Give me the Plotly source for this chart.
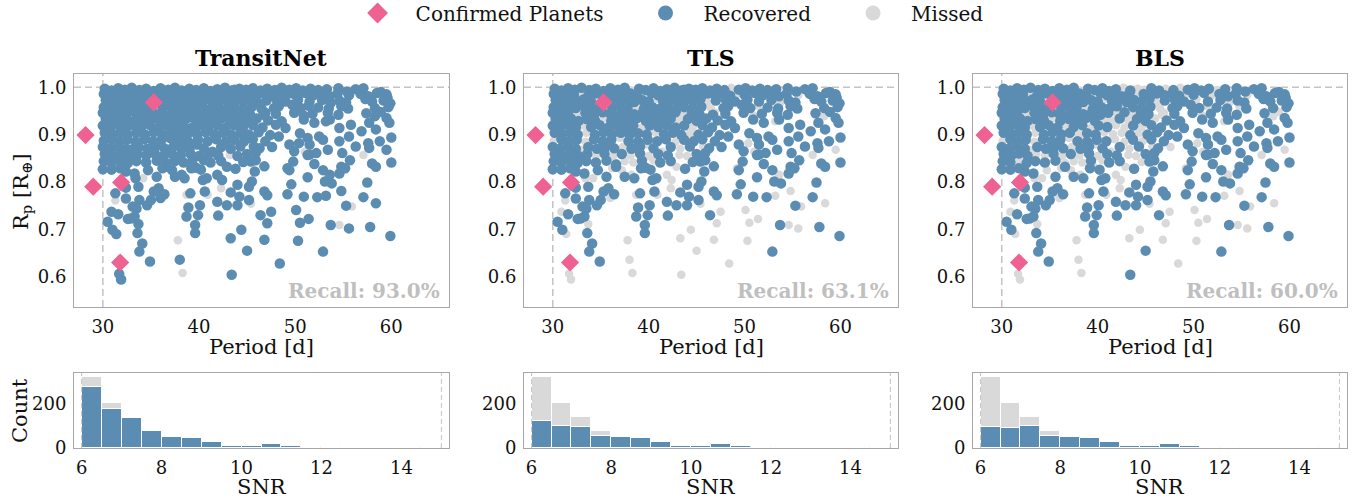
import plotly.graph_objects as go

# ---------------- data ----------------
methods = ["TransitNet", "TLS", "BLS"]
recall_pct = [93.0, 63.1, 60.0]

# planets recovered by all three methods
all_period = [30.2, 30.9, 31.6, 32.3, 33.0, 33.8, 34.5, 35.3, 36.0, 36.8, 37.5, 39.0, 39.7, 40.5, 41.2, 41.9, 43.4, 45.6, 46.4, 47.9, 49.4, 50.1, 50.8, 51.6, 53.3, 54.5, 55.4, 56.3, 57.1, 58.5, 59.5,
              30.1, 30.8, 31.5, 32.2, 33.7, 34.4, 35.1, 35.9, 36.6, 37.4, 38.1, 38.8, 40.3, 41.0, 41.8, 42.5, 43.3, 44.8, 45.5, 46.2, 47.0, 47.8, 48.5, 50.0, 51.1, 52.7, 53.6, 54.4, 56.8, 57.6, 58.9, 59.6,
              30.3, 31.0, 31.8, 32.5, 33.2, 34.0, 35.5, 36.3, 37.0, 37.8, 38.5, 39.3, 40.0, 41.5, 42.3, 43.0, 43.8, 44.6, 45.4, 47.0, 48.0, 49.0, 51.5, 52.8, 54.6, 55.3, 57.3, 58.0, 59.2, 59.9,
              30.1, 30.9, 31.7, 32.4, 33.3, 34.1, 34.9, 36.2, 37.0, 37.8, 39.5, 40.4, 41.2, 42.0, 43.7, 44.6, 45.5, 47.8, 48.3, 49.7, 50.6, 52.4, 53.5, 55.5, 58.3, 59.7,
              30.0, 30.8, 31.6, 33.4, 34.3, 35.2, 36.0, 36.9, 37.7, 38.5, 39.4, 40.3, 41.1, 42.8, 44.5, 45.3, 48.0, 49.9, 51.8, 53.4, 54.5, 57.4,
              30.3, 31.1, 31.9, 32.7, 33.5, 34.4, 36.1, 37.0, 37.9, 38.8, 39.7, 42.3, 44.1, 45.0, 47.2, 48.6, 50.9, 52.0, 53.6, 55.8, 57.7, 59.5, 59.8,
              30.0, 30.8, 31.6, 32.4, 34.0, 34.9, 35.8, 37.5, 38.4, 40.1, 41.0, 43.7, 45.6, 46.6, 48.0, 49.0, 54.6, 58.4,
              30.2, 31.0, 31.8, 32.6, 34.4, 35.3, 36.2, 37.1, 38.9, 39.8, 43.4, 45.2, 46.2, 47.4, 50.5, 52.5, 55.6, 56.9, 60.0,
              30.9, 31.7, 32.5, 34.3, 35.2, 36.1, 37.9, 38.9, 39.9, 40.9, 43.7, 45.6, 46.9, 48.3, 51.3, 52.9, 54.6, 57.6, 58.8,
              30.0, 30.8, 31.6, 32.4, 33.7, 34.6, 35.5, 36.4, 38.2, 39.1, 40.5, 42.3, 44.3, 46.3, 49.4, 51.5, 53.4, 56.3, 57.7,
              30.2, 31.0, 31.8, 32.7, 35.4, 37.2, 39.1, 41.0, 42.0, 45.0, 45.9, 49.9, 51.5, 52.2, 54.9,
              30.1, 30.9, 32.6, 33.5, 34.5, 35.6, 39.3, 41.2, 42.3, 45.4, 46.8, 52.0, 55.7,
              30.0, 30.9, 31.8, 32.4, 33.3, 36.6, 37.5, 38.5, 39.2, 40.2, 43.8,
              30.5, 31.0, 31.3, 31.6, 32.4, 32.4, 32.6, 32.9, 33.3, 33.1, 33.5, 33.6, 33.8, 33.7, 34.1, 33.8, 34.9, 34.6, 35.0, 35.3, 35.8, 36.4, 35.6,
              39.1, 38.9, 38.7, 39.9, 40.1, 39.6, 39.6, 40.6, 40.4, 40.8, 41.9, 42.0, 42.9, 43.3, 44.0, 44.2, 44.0, 45.2, 45.5, 45.2, 45.8, 46.4, 46.8, 47.1,
              49.2, 49.6, 49.4, 50.9, 51.3, 52.3, 52.9, 53.1, 52.9, 53.7, 53.8, 54.6, 54.8, 55.2, 55.3, 57.1, 57.5, 57.8, 59.9, 58.0, 58.4, 60.0, 45.9, 49.8, 51.3]
all_radius = [0.997, 0.993, 0.998, 0.995, 0.999, 0.994, 0.997, 0.992, 0.998, 0.995, 0.999, 0.997, 0.994, 0.998, 0.992, 0.996, 0.993, 0.998, 0.993, 0.994, 0.995, 0.998, 0.993, 0.997, 0.996, 0.998, 0.991, 0.996, 0.998, 0.988, 0.985,
              0.986, 0.983, 0.987, 0.984, 0.982, 0.987, 0.984, 0.981, 0.986, 0.983, 0.987, 0.982, 0.988, 0.983, 0.986, 0.981, 0.987, 0.986, 0.982, 0.987, 0.983, 0.986, 0.982, 0.984, 0.988, 0.986, 0.981, 0.987, 0.986, 0.981, 0.990, 0.978,
              0.973, 0.970, 0.975, 0.971, 0.974, 0.969, 0.970, 0.975, 0.971, 0.974, 0.969, 0.973, 0.970, 0.971, 0.974, 0.969, 0.973, 0.970, 0.975, 0.972, 0.975, 0.970, 0.970, 0.973, 0.972, 0.968, 0.975, 0.970, 0.972, 0.966,
              0.958, 0.955, 0.960, 0.956, 0.959, 0.954, 0.958, 0.956, 0.960, 0.955, 0.954, 0.958, 0.955, 0.960, 0.958, 0.954, 0.959, 0.956, 0.960, 0.963, 0.956, 0.957, 0.955, 0.955, 0.956, 0.958,
              0.946, 0.943, 0.947, 0.946, 0.942, 0.947, 0.944, 0.941, 0.946, 0.943, 0.947, 0.942, 0.946, 0.947, 0.946, 0.943, 0.944, 0.946, 0.944, 0.946, 0.942, 0.945,
              0.933, 0.930, 0.934, 0.929, 0.933, 0.930, 0.929, 0.933, 0.930, 0.935, 0.929, 0.934, 0.933, 0.929, 0.930, 0.928, 0.932, 0.925, 0.932, 0.921, 0.925, 0.935, 0.925,
              0.919, 0.916, 0.920, 0.915, 0.916, 0.920, 0.915, 0.916, 0.920, 0.919, 0.916, 0.919, 0.920, 0.915, 0.921, 0.914, 0.914, 0.911,
              0.904, 0.901, 0.905, 0.900, 0.900, 0.905, 0.901, 0.904, 0.903, 0.900, 0.899, 0.900, 0.905, 0.899, 0.903, 0.896, 0.896, 0.907, 0.894,
              0.890, 0.886, 0.889, 0.890, 0.886, 0.889, 0.886, 0.885, 0.889, 0.886, 0.889, 0.890, 0.886, 0.896, 0.893, 0.889, 0.886, 0.882, 0.886,
              0.874, 0.871, 0.875, 0.870, 0.874, 0.870, 0.875, 0.871, 0.870, 0.875, 0.871, 0.874, 0.875, 0.871, 0.879, 0.879, 0.868, 0.875, 0.872,
              0.859, 0.856, 0.860, 0.855, 0.860, 0.859, 0.860, 0.859, 0.856, 0.859, 0.861, 0.865, 0.858, 0.861, 0.861,
              0.844, 0.841, 0.840, 0.844, 0.841, 0.845, 0.845, 0.841, 0.844, 0.843, 0.833, 0.838, 0.846,
              0.827, 0.826, 0.829, 0.822, 0.818, 0.832, 0.811, 0.808, 0.829, 0.826, 0.828,
              0.716, 0.699, 0.776, 0.732, 0.765, 0.788, 0.722, 0.723, 0.727, 0.748, 0.744, 0.692, 0.762, 0.790, 0.670, 0.653, 0.632, 0.751, 0.762, 0.780, 0.787, 0.774, 0.811,
              0.776, 0.746, 0.727, 0.730, 0.751, 0.709, 0.692, 0.780, 0.804, 0.808, 0.758, 0.729, 0.751, 0.778, 0.794, 0.769, 0.751, 0.762, 0.801, 0.790, 0.822, 0.730, 0.780, 0.772,
              0.774, 0.795, 0.825, 0.769, 0.810, 0.768, 0.653, 0.801, 0.825, 0.709, 0.797, 0.818, 0.832, 0.829, 0.750, 0.768, 0.799, 0.705, 0.686, 0.839, 0.832, 0.841, 0.846, 0.843, 0.857]

# recovered by TransitNet and TLS, missed by BLS
tn_tls_period = [42.7, 44.2, 44.9, 52.4, 44.0, 51.9, 50.3, 42.9, 54.8, 42.0, 58.9, 41.4, 40.6, 46.0, 36.7, 42.8, 41.9, 38.0, 41.6, 42.5,
                 41.8, 44.7, 47.6, 38.3, 46.7, 31.8, 33.6, 34.7, 44.6, 36.6, 39.7, 47.1, 43.7]
tn_tls_radius = [0.999, 0.997, 0.995, 0.994, 0.984, 0.983, 0.974, 0.955, 0.960, 0.943, 0.948, 0.930, 0.933, 0.934, 0.919, 0.915, 0.920, 0.899, 0.901, 0.904,
                 0.890, 0.886, 0.874, 0.907, 0.942, 0.845, 0.859, 0.825, 0.842, 0.837, 0.830, 0.997, 0.995]

# recovered by TransitNet and BLS, missed by TLS
tn_bls_period = [43.4, 45.0]
tn_bls_radius = [0.604, 0.655]

# recovered by TransitNet only
tn_only_period = [38.2, 48.6, 33.0, 39.6, 49.3, 55.6, 34.7, 40.8, 46.1, 53.7, 38.7, 46.5, 51.4, 32.5, 43.6, 46.9, 50.9, 35.3, 43.2, 53.2, 58.3,
                  33.2, 39.3, 44.6, 33.5, 40.7, 44.3, 30.1, 33.4, 37.0, 38.4, 50.4, 32.9, 37.3, 39.8, 41.4, 45.7, 59.5, 34.5, 38.1,
                  36.6, 40.5, 42.9, 36.2, 37.2, 38.2, 39.5, 41.9, 42.4, 49.2, 53.6, 33.4,
                  42.8, 43.3, 36.3, 40.0, 44.0, 37.5, 38.4,
                  30.9, 31.4, 31.7, 31.9, 33.7, 36.0, 38.0, 43.3, 44.4, 46.8, 47.1, 47.5, 48.4, 50.1, 50.5, 50.3, 51.4, 53.2, 54.8, 55.6, 58.4]
tn_only_radius = [0.993, 0.999, 0.986, 0.985, 0.987, 0.983, 0.973, 0.975, 0.968, 0.967, 0.959, 0.955, 0.961, 0.944, 0.942, 0.946, 0.940, 0.934, 0.930, 0.928, 0.939,
                  0.919, 0.915, 0.916, 0.904, 0.905, 0.903, 0.887, 0.885, 0.893, 0.890, 0.882, 0.868, 0.874, 0.879, 0.864, 0.875, 0.868, 0.856, 0.856,
                  0.840, 0.846, 0.832, 0.829, 0.825, 0.815, 0.832, 0.815, 0.804, 0.829, 0.815, 0.808,
                  0.885, 0.870, 0.855, 0.855, 0.855, 0.844, 0.841,
                  0.737, 0.690, 0.606, 0.594, 0.711, 0.766, 0.636, 0.681, 0.699, 0.678, 0.713, 0.737, 0.628, 0.741, 0.714, 0.676, 0.722, 0.771, 0.781, 0.702, 0.755]

# missed by all three methods
none_period = [31.3, 34.2, 37.8, 38.3, 38.7, 40.9, 42.3, 45.4, 54.6, 55.9, 57.1, 51.0, 43.2]
none_radius = [0.761, 0.808, 0.677, 0.608, 0.773, 0.773, 0.787, 0.754, 0.709, 0.748, 0.857, 0.864, 0.857]

confirmed_period = [28.2, 29.0, 31.9, 31.8, 35.3]
confirmed_radius = [0.899, 0.790, 0.799, 0.630, 0.968]

# SNR histograms (bin edges, all injected, recovered per method)
snr_edges = [6.0, 6.5, 7.0, 7.5, 8.0, 8.5, 9.0, 9.5, 10.0, 10.5, 11.0, 11.5, 12.0, 12.5, 13.0, 13.5, 14.0, 14.5, 15.0]
snr_total = [323, 202, 141, 76, 49, 46, 27, 9, 11, 19, 10, 5, 3, 1, 1, 1, 1, 5]
snr_recovered = {
    "TransitNet": [277, 175, 137, 75, 49, 46, 27, 9, 11, 19, 10, 5, 3, 1, 1, 1, 1, 5],
    "TLS":        [122, 100, 95, 55, 48, 46, 27, 9, 11, 19, 10, 5, 3, 1, 1, 1, 1, 5],
    "BLS":        [95, 90, 100, 55, 48, 46, 27, 9, 11, 19, 10, 5, 3, 1, 1, 1, 1, 5],
}

# ---------------- styling ----------------
BLUE = "#5b8db3"
GRAY = "#d9d9d9"
PINK = "#ef6190"
FONT = "DejaVu Serif"
W, H = 1365, 501
panel_px = [(74, 449), (524, 898), (973, 1347)]
scatter_py = (74, 307)
hist_py = (373, 448)

groups = {
    "A": (all_period, all_radius),
    "C": (tn_tls_period, tn_tls_radius),
    "B": (tn_bls_period, tn_bls_radius),
    "T": (tn_only_period, tn_only_radius),
    "N": (none_period, none_radius),
}
recovered_by = {
    "TransitNet": ["A", "C", "B", "T"],
    "TLS": ["A", "C"],
    "BLS": ["A", "B"],
}


def collect(keys):
    px, ry = [], []
    for k in keys:
        px += groups[k][0]
        ry += groups[k][1]
    return px, ry


fig = go.Figure()
centers = [(a + b) / 2 for a, b in zip(snr_edges[:-1], snr_edges[1:])]

for i, m in enumerate(methods):
    sx = "x" if i == 0 else f"x{i + 1}"
    sy = "y" if i == 0 else f"y{i + 1}"
    hx = f"x{i + 4}"
    hy = f"y{i + 4}"
    rec_keys = recovered_by[m]
    miss_keys = [k for k in groups if k not in rec_keys]
    mp, mr = collect(miss_keys)
    rp, rr = collect(rec_keys)
    fig.add_trace(go.Scatter(x=mp, y=mr, mode="markers", xaxis=sx, yaxis=sy, showlegend=False,
                             marker=dict(color=GRAY, size=8.5, line=dict(width=0))))
    fig.add_trace(go.Scatter(x=rp, y=rr, mode="markers", xaxis=sx, yaxis=sy, showlegend=False,
                             marker=dict(color=BLUE, size=10.5, line=dict(width=0))))
    fig.add_trace(go.Scatter(x=confirmed_period, y=confirmed_radius, mode="markers", xaxis=sx, yaxis=sy,
                             showlegend=False, marker=dict(color=PINK, size=14, symbol="diamond", line=dict(width=0))))
    # histograms
    fig.add_trace(go.Bar(x=centers, y=snr_total, width=0.5, xaxis=hx, yaxis=hy, showlegend=False,
                         marker=dict(color=GRAY, line=dict(color="white", width=1))))
    fig.add_trace(go.Bar(x=centers, y=snr_recovered[m], width=0.5, xaxis=hx, yaxis=hy, showlegend=False,
                         marker=dict(color=BLUE, line=dict(color="white", width=1))))

# legend-only entries
NB = "\u00a0"
fig.add_trace(go.Scatter(x=[None], y=[None], mode="markers", name="Confirmed Planets" + NB * 3,
                         marker=dict(color=PINK, size=16, symbol="diamond")))
fig.add_trace(go.Scatter(x=[None], y=[None], mode="markers", name="Recovered" + NB * 3,
                         marker=dict(color=BLUE, size=15)))
fig.add_trace(go.Scatter(x=[None], y=[None], mode="markers", name="Missed",
                         marker=dict(color=GRAY, size=15)))

axis_common = dict(showline=True, mirror=True, linecolor="#a8a8a8", linewidth=1, showgrid=False, zeroline=False,
                   ticks="outside", ticklen=3, tickcolor="rgba(0,0,0,0)",
                   tickfont=dict(family=FONT, size=18, color="#111"))
layout = dict(width=W, height=H, margin=dict(l=0, r=0, t=0, b=0, autoexpand=False),
              plot_bgcolor="white", paper_bgcolor="white",
              barmode="overlay", bargap=0, font=dict(family=FONT, color="#111"),
              legend=dict(orientation="h", x=0.4865, xanchor="center", y=1 - 13 / H, yanchor="middle",
                          font=dict(family=FONT, size=20), itemwidth=66, bgcolor="rgba(0,0,0,0)"))
shapes = []
annotations = []
for i, m in enumerate(methods):
    x0, x1 = panel_px[i]
    dom = [x0 / W, x1 / W]
    sname = "" if i == 0 else str(i + 1)
    hname = str(i + 4)
    layout["xaxis" + sname] = dict(axis_common, domain=dom, range=[27, 66], tickvals=[30, 40, 50, 60],
                                   anchor="y" + sname)
    layout["yaxis" + sname] = dict(axis_common, domain=[1 - scatter_py[1] / H, 1 - scatter_py[0] / H],
                                   range=[0.536, 1.028], tickvals=[0.6, 0.7, 0.8, 0.9, 1.0], tickformat=".1f",
                                   anchor="x" + sname)
    layout["xaxis" + hname] = dict(axis_common, domain=dom, range=[5.81, 15.19], tickvals=[6, 8, 10, 12, 14],
                                   anchor="y" + hname)
    layout["yaxis" + hname] = dict(axis_common, domain=[1 - hist_py[1] / H, 1 - hist_py[0] / H],
                                   range=[0, 340], tickvals=[0, 200], anchor="x" + hname)
    xs = "x" + sname
    ys = "y" + sname
    dash = dict(color="#c4c4c4", width=1.5, dash="7px,4px")
    shapes.append(dict(type="line", xref=xs + " domain", yref=ys, x0=0, x1=1, y0=1.0, y1=1.0, line=dash, layer="below"))
    shapes.append(dict(type="line", xref=xs, yref=ys + " domain", x0=30, x1=30, y0=0, y1=1, line=dash, layer="below"))
    for v in (6, 15):
        shapes.append(dict(type="line", xref="x" + hname, yref="y" + hname + " domain", x0=v, x1=v, y0=0, y1=1,
                           line=dict(color="#c4c4c4", width=1, dash="5px,3px"), layer="above"))
    cx = (x0 + x1) / 2 / W
    annotations.append(dict(text=f"<b>{m}</b>", x=cx, y=1 - 58 / H, xref="paper", yref="paper", showarrow=False,
                            xanchor="center", yanchor="middle", font=dict(family=FONT, size=22, color="#000")))
    annotations.append(dict(text=f"<b>Recall: {recall_pct[i]:.1f}%</b>", x=0.98, y=0.07,
                            xref=xs + " domain", yref=ys + " domain", showarrow=False, xanchor="right",
                            yanchor="middle", font=dict(family=FONT, size=20, color="#bfbfbf")))
    annotations.append(dict(text="Period [d]", x=cx, y=1 - 347 / H, xref="paper", yref="paper", showarrow=False,
                            xanchor="center", yanchor="middle", font=dict(family=FONT, size=21, color="#111")))
    annotations.append(dict(text="SNR", x=cx, y=1 - 487 / H, xref="paper", yref="paper", showarrow=False,
                            xanchor="center", yanchor="middle", font=dict(family=FONT, size=21, color="#111")))

annotations.append(dict(text="R<sub>p</sub> [R<sub>⊕</sub>]", x=22 / W, y=1 - 192 / H, xref="paper", yref="paper",
                        showarrow=False, textangle=-90, xanchor="center", yanchor="middle",
                        font=dict(family=FONT, size=21, color="#111")))
annotations.append(dict(text="Count", x=20 / W, y=1 - 411 / H, xref="paper", yref="paper",
                        showarrow=False, textangle=-90, xanchor="center", yanchor="middle",
                        font=dict(family=FONT, size=21, color="#111")))
layout["shapes"] = shapes
layout["annotations"] = annotations
fig.update_layout(**layout)
fig.write_html("out.html", config={"displayModeBar": False},
               post_script="document.body.style.margin='0';document.body.style.padding='0';"
                           "document.documentElement.style.overflow='hidden';")
